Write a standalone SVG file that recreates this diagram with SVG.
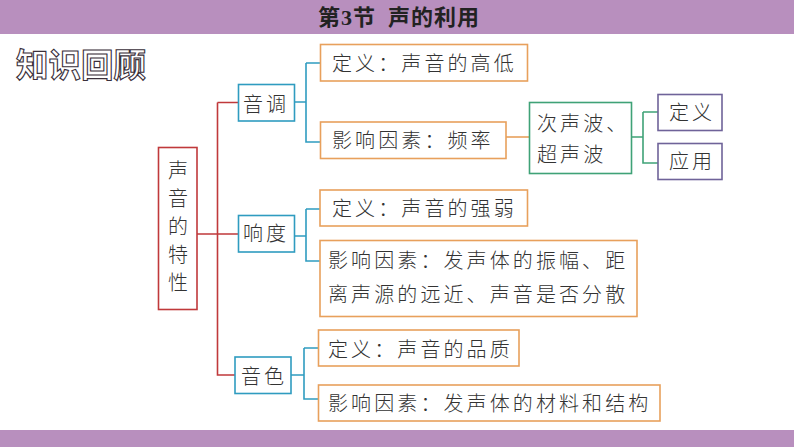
<svg xmlns="http://www.w3.org/2000/svg" width="794" height="447" viewBox="0 0 794 447">
<style>
text{font-family:"Noto Sans CJK SC","Noto Sans CJK JP",sans-serif;font-size:20px;fill:#333;letter-spacing:3.1px;font-weight:300}
.t{text-anchor:middle}
rect{fill:#fff;stroke-width:1.6}
.r{stroke:#c0393b}.b{stroke:#2f9cc0}.o{stroke:#e8a05c}.g{stroke:#3fa277}.p{stroke:#6f6399}
#connectors path{fill:none;stroke-width:1.6}
</style>
<rect x="0" y="0" width="794" height="447" style="fill:#fff;stroke:none"/>
<rect x="0" y="0" width="794" height="34" style="fill:#b88fbe;stroke:none"/>
<rect x="0" y="430" width="794" height="17" style="fill:#b88fbe;stroke:none"/>
<text x="399" y="25" class="t" xml:space="preserve" style="font-size:22px;font-weight:700;fill:#222;letter-spacing:1px">第<tspan style="font-family:'Liberation Serif',serif">3</tspan>节  声的利用</text>
<text x="16" y="77" style="font-size:32.5px;font-weight:700;fill:#fff;stroke:#3a2f3a;stroke-width:1.1;letter-spacing:0">知识回顾</text>
<g id="connectors">
<path class="r" d="M217.500 102.500H238M217.500 102.500V375H235M197 234H238"/>
<path class="b" d="M294 102H306M306 63H320M306 63V142H320"/>
<path class="o" d="M506 137H529"/>
<path class="g" d="M631 137H643M643 112H658M643 112V163H658"/>
<path class="b" d="M294 236H306M306 209H320M306 209V261H320"/>
<path class="b" d="M291 375H304M304 348H318M304 348V399H318"/>
</g>
<g id="n-root"><rect class="r" x="158.500" y="147.500" width="38.500" height="162"/>
<text class="t" style="letter-spacing:0" x="178" y="178">声</text><text class="t" style="letter-spacing:0" x="178" y="206">音</text><text class="t" style="letter-spacing:0" x="178" y="234">的</text><text class="t" style="letter-spacing:0" x="178" y="262">特</text><text class="t" style="letter-spacing:0" x="178" y="290">性</text></g>
<g id="n-pitch"><rect class="b" x="238.500" y="84.500" width="56" height="36.500"/><text x="243" y="112">音调</text></g>
<g id="n-pitch-def"><rect class="o" x="320.500" y="44.500" width="207" height="36.500"/><text x="332" y="71">定义：声音的高低</text></g>
<g id="n-pitch-factor"><rect class="o" x="320.500" y="122" width="185.500" height="36.500"/><text x="332" y="148">影响因素：频率</text></g>
<g id="n-waves"><rect class="g" x="529.500" y="102.500" width="102" height="71"/><text x="537" y="131">次声波、</text><text x="537" y="162">超声波</text></g>
<g id="n-wave-def"><rect class="p" x="658" y="94.500" width="64" height="36"/><text x="669" y="120">定义</text></g>
<g id="n-wave-use"><rect class="p" x="658" y="143.500" width="64" height="36"/><text x="669" y="169">应用</text></g>
<g id="n-loud"><rect class="b" x="238.500" y="215.500" width="56" height="36.500"/><text x="243" y="241">响度</text></g>
<g id="n-loud-def"><rect class="o" x="320" y="190" width="207.500" height="36"/><text x="332" y="216">定义：声音的强弱</text></g>
<g id="n-loud-factor"><rect class="o" x="320" y="240.500" width="317" height="76"/><text x="328" y="268">影响因素：发声体的振幅、距</text><text x="328" y="302">离声源的远近、声音是否分散</text></g>
<g id="n-timbre"><rect class="b" x="235" y="357" width="56" height="36.500"/><text x="241" y="384">音色</text></g>
<g id="n-timbre-def"><rect class="o" x="318.500" y="330" width="200.500" height="36"/><text x="328" y="357">定义：声音的品质</text></g>
<g id="n-timbre-factor"><rect class="o" x="318.500" y="385" width="341.500" height="36"/><text x="328" y="411">影响因素：发声体的材料和结构</text></g>
</svg>
